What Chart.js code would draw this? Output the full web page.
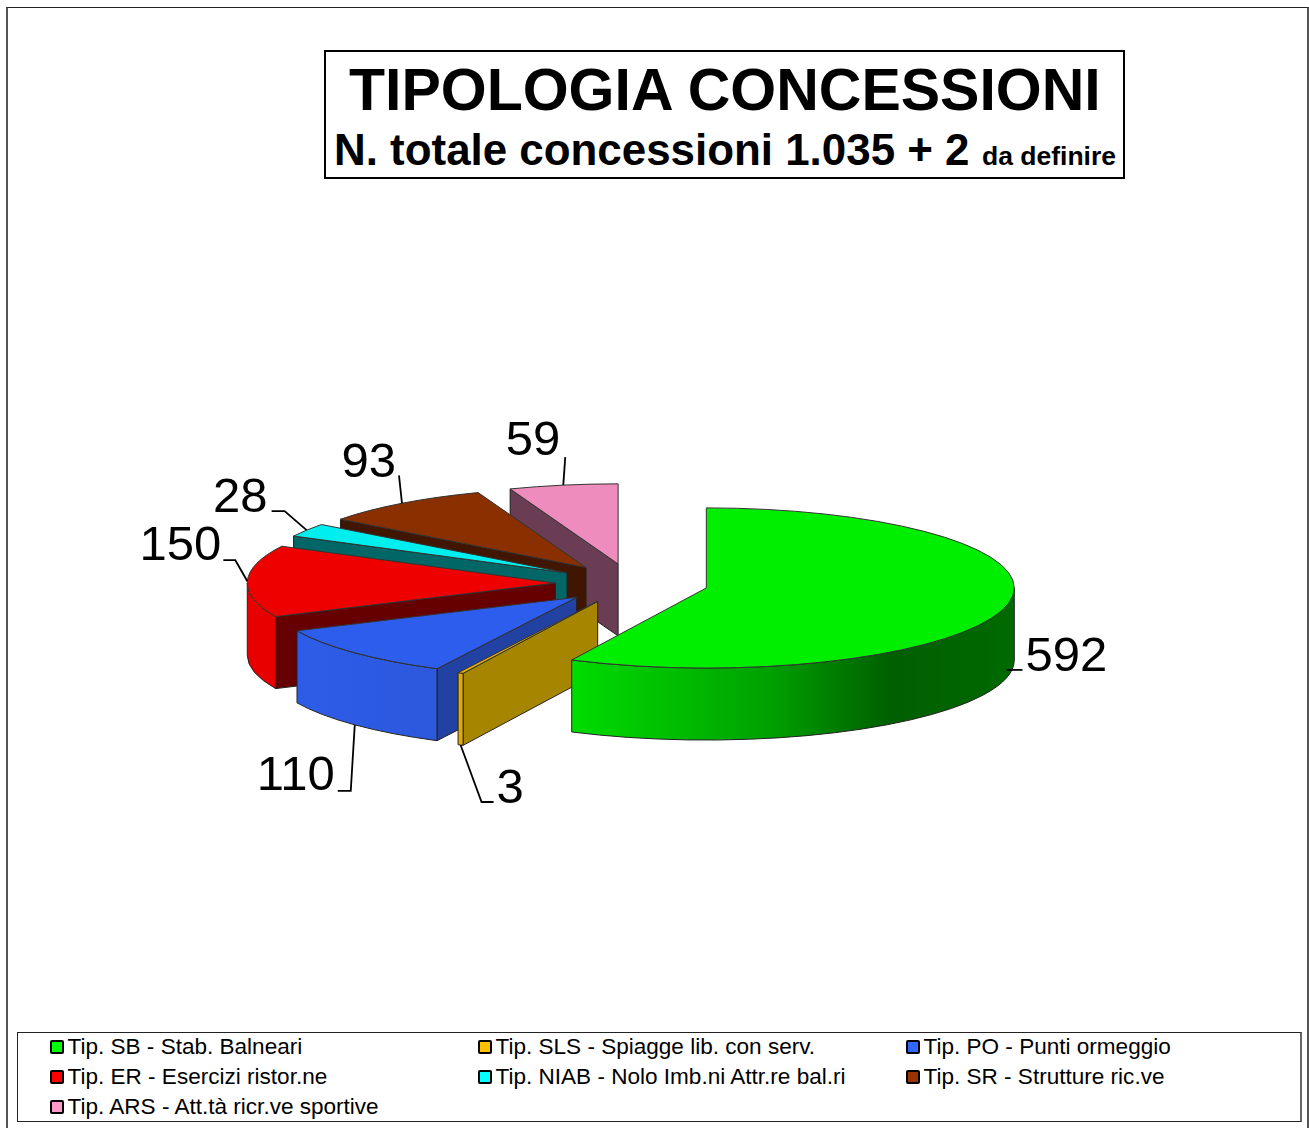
<!DOCTYPE html>
<html>
<head>
<meta charset="utf-8">
<title>Tipologia concessioni</title>
<script src="https://cdn.jsdelivr.net/npm/chart.js@4"></script>
<style>
  html, body { margin: 0; padding: 0; background: #fff; }
  body { width: 1309px; height: 1128px; overflow: hidden; position: relative; font-family: "Liberation Sans", Arial, sans-serif; color: #000; }
  #frame { position: absolute; left: 6px; top: 7px; width: 1299px; height: 1140px; border: 1px solid #222; border-left: 2px solid #555; border-right: 2px solid #555; }
  #chart { position: absolute; left: 0; top: 0; }
  #titleBox { position: absolute; left: 324px; top: 50px; width: 797px; height: 125px; border: 2px solid #000; background: #fff; font-weight: bold; }
  #titleBox span { position: absolute; white-space: nowrap; line-height: 1; }
  #legendBox { position: absolute; left: 17px; top: 1032px; width: 1282px; height: 88px; border: 1px solid #222; border-right: 2px solid #666; background: #fff; }
  .item { position: absolute; font-size: 22.55px; line-height: 30px; white-space: nowrap; }
  .item i { position: absolute; left: 0; top: 8px; width: 10px; height: 10px; border: 2px solid #000; border-radius: 2px; }
  .item b { font-weight: normal; margin-left: 17.5px; }
</style>
</head>
<body>
<div id="frame"></div>
<canvas id="chart" width="1309" height="1128"></canvas>
<div id="titleBox">
  <span style="left:23px;top:9px;font-size:59px">TIPOLOGIA CONCESSIONI</span>
  <span style="left:8px;top:76px;font-size:43.9px">N. totale concessioni 1.035 + 2</span>
  <span style="left:656px;top:91px;font-size:26.5px">da definire</span>
</div>
<div id="legendBox"></div>
<script>
const categories = [
  "Tip. SB - Stab. Balneari",
  "Tip. SLS - Spiagge lib. con serv.",
  "Tip. PO - Punti ormeggio",
  "Tip. ER - Esercizi ristor.ne",
  "Tip. NIAB - Nolo Imb.ni Attr.re bal.ri",
  "Tip. SR - Strutture ric.ve",
  "Tip. ARS - Att.tà ricr.ve sportive"
];
const values = [592, 3, 110, 150, 28, 93, 59];

const topColors = ["#00ee00", "#e6b000", "#2d5ded", "#ee0000", "#00eeee", "#8a2f00", "#ee8cbd"];
const legendColors = ["#00ff00", "#ffc000", "#3366ff", "#ff0000", "#00ffff", "#993300", "#ff99cc"];
const faceColors = ["#006000", "#a68500", "#2142a3", "#660000", "#006666", "#401600", "#6a3d55"];
const wallColors = [
  [[0, "#00dc00"], [0.45, "#00a000"], [0.72, "#005f00"], [1, "#006a00"]],
  [[0, "#e0aa00"]],
  [[0, "#2d5ce8"], [1, "#2c58dc"]],
  [[0, "#e80000"]],
  [[0, "#00e0e0"]],
  [[0, "#802b00"]],
  [[0, "#dd80b0"]]
];

// 3d look of the original
const squash = 0.26, depth = 72, explode = 76.5;

// leader line points relative to the rim, then where the number sits relative to the line end
const leaders = [
  [[0, -8], [16, -8]],
  [[0, 0], [21, 57], [33, 57]],
  [[0, 0], [-4, 66], [-17, 66]],
  [[0, 0], [-12, -21], [-24, -21]],
  [[0, 0], [-22, -19], [-35, -19]],
  [[0, 0], [-3, -28]],
  [[0, 0], [2, -28]]
];
const numberOffsets = [[3, 1], [3, 1], [-3, -1], [-2, 0], [-4, 1], [-3, 2], [-5, -2]];

const pie3d = {
  id: "pie3d",
  beforeDatasetDraw(chart) {
    const ctx = chart.ctx;
    const arcs = chart.getDatasetMeta(0).data;
    const slices = arcs.map((arc, i) => {
      const mid = (arc.startAngle + arc.endAngle) / 2;
      return {
        arc, i, mid,
        r: arc.outerRadius,
        cx: arc.x + Math.cos(mid) * explode,
        cy: arc.y + Math.sin(mid) * explode * squash
      };
    });

    // back to front
    for (let n = slices.length - 1; n >= 0; n--) {
      const s = slices[n];
      drawFaces(ctx, s);
      drawWall(ctx, s);
      ctx.save();
      ctx.translate(s.cx, s.cy);
      ctx.scale(1, squash);
      ctx.translate(-s.arc.x, -s.arc.y);
      s.arc.draw(ctx);
      ctx.restore();
      ctx.beginPath();
      ctx.moveTo(s.cx, s.cy);
      ctx.ellipse(s.cx, s.cy, s.r, s.r * squash, 0, s.arc.startAngle, s.arc.endAngle);
      ctx.closePath();
      ctx.lineWidth = 1;
      ctx.strokeStyle = "#333";
      ctx.stroke();
    }

    slices.forEach(drawNumber.bind(null, ctx));
    return false;
  }
};

function drawFaces(ctx, s) {
  const a0 = s.arc.startAngle, a1 = s.arc.endAngle;
  if (Math.cos(a0) < -0.001) drawFace(ctx, s, a0);
  if (Math.cos(a1) > 0.001) drawFace(ctx, s, a1);
}

function drawFace(ctx, s, a) {
  const x = s.cx + Math.cos(a) * s.r, y = s.cy + Math.sin(a) * s.r * squash;
  ctx.beginPath();
  ctx.moveTo(s.cx, s.cy);
  ctx.lineTo(x, y);
  ctx.lineTo(x, y + depth);
  ctx.lineTo(s.cx, s.cy + depth);
  ctx.closePath();
  ctx.fillStyle = faceColors[s.i];
  ctx.fill();
  ctx.lineWidth = 1;
  ctx.strokeStyle = "#222";
  ctx.stroke();
}

function drawWall(ctx, s) {
  // only the part of the rim turned towards us
  const norm = a => { const t = Math.PI * 2; return ((a % t) + t) % t; };
  let a0 = norm(s.arc.startAngle), a1 = a0 + (s.arc.endAngle - s.arc.startAngle);
  const from = a0 > Math.PI ? Math.max(a0, Math.PI * 2) : a0;
  const to = Math.min(a1, a0 > Math.PI ? Math.PI * 3 : Math.PI);
  if (to <= from) return;
  const ry = s.r * squash;
  const xs = [Math.cos(from), Math.cos(to)].map(c => s.cx + c * s.r);
  const grad = ctx.createLinearGradient(Math.min(...xs), 0, Math.max(...xs), 0);
  wallColors[s.i].forEach(st => grad.addColorStop(st[0], st[1]));
  ctx.beginPath();
  ctx.ellipse(s.cx, s.cy, s.r, ry, 0, from, to);
  ctx.ellipse(s.cx, s.cy + depth, s.r, ry, 0, to, from, true);
  ctx.closePath();
  ctx.fillStyle = grad;
  ctx.fill();
  ctx.lineWidth = 1;
  ctx.strokeStyle = "#222";
  ctx.stroke();
}

function drawNumber(ctx, s) {
  const sin = Math.sin(s.mid);
  const ax = s.cx + Math.cos(s.mid) * s.r;
  const ay = s.cy + sin * s.r * squash + (sin > 0 ? depth : 0);
  const pts = leaders[s.i].map(p => [ax + p[0], ay + p[1]]);
  ctx.beginPath();
  pts.forEach((p, k) => k ? ctx.lineTo(p[0], p[1]) : ctx.moveTo(p[0], p[1]));
  ctx.lineWidth = 1.8;
  ctx.strokeStyle = "#000";
  ctx.stroke();

  const end = pts[pts.length - 1];
  const off = numberOffsets[s.i];
  const goesLeft = leaders[s.i][leaders[s.i].length - 1][0] < 0 && s.i !== 5;
  ctx.font = '49px "Liberation Sans", Arial, sans-serif';
  ctx.fillStyle = "#000";
  ctx.textBaseline = "alphabetic";
  ctx.textAlign = goesLeft || s.i === 5 || s.i === 6 ? "right" : "left";
  ctx.fillText(String(values[s.i]), end[0] + off[0], end[1] + off[1]);
}

new Chart(document.getElementById("chart"), {
  type: "pie",
  data: {
    labels: categories,
    datasets: [{
      data: values,
      backgroundColor: topColors,
      borderWidth: 0,
      radius: 308
    }]
  },
  options: {
    responsive: false,
    animation: false,
    events: [],
    layout: { padding: { right: 45.5, top: 39 } },
    plugins: {
      legend: { display: false },
      tooltip: { enabled: false }
    }
  },
  plugins: [pie3d]
});

// legend in three columns
const legendBox = document.getElementById("legendBox");
const legendColumns = [32, 460, 888];
categories.forEach((name, i) => {
  const item = document.createElement("div");
  item.className = "item";
  item.style.left = legendColumns[i % 3] + "px";
  item.style.top = (Math.floor(i / 3) * 30 - 1) + "px";
  const box = document.createElement("i");
  box.style.background = legendColors[i];
  const text = document.createElement("b");
  text.textContent = name;
  item.append(box, text);
  legendBox.append(item);
});
</script>
</body>
</html>
